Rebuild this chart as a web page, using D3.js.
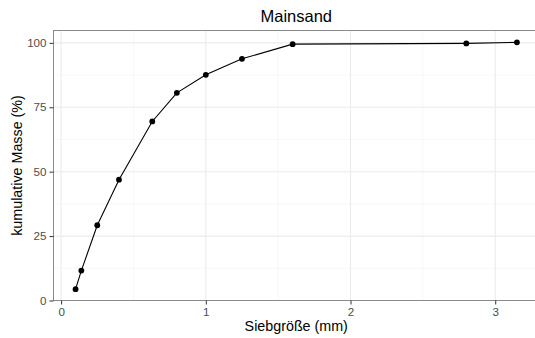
<!DOCTYPE html>
<html>
<head>
<meta charset="utf-8">
<script src="https://cdn.jsdelivr.net/npm/d3@7"></script>
<style>
  html, body { margin: 0; padding: 0; background: #fff; }
  svg { display: block; font-family: "Liberation Sans", Arial, Helvetica, sans-serif; }
  .tick text { opacity: 0.999; }
</style>
</head>
<body>
<svg id="chart" width="535" height="338"></svg>
<script>
// Sieve analysis: cumulative passing mass per sieve size
const title = "Mainsand";
const xLabel = "Siebgröße (mm)";
const yLabel = "kumulative Masse (%)";
const sieveSizes = [0.1, 0.14, 0.25, 0.4, 0.63, 0.8, 1.0, 1.25, 1.6, 2.8, 3.15];
const cumulativeMass = [4.4, 11.6, 29.2, 46.9, 69.5, 80.6, 87.6, 93.8, 99.5, 99.8, 100.2];
const xTicks = [0, 1, 2, 3];
const yTicks = [0, 25, 50, 75, 100];
const xMinor = [0.5, 1.5, 2.5];
const yMinor = [12.5, 37.5, 62.5, 87.5];

const data = sieveSizes.map((s, i) => ({ x: s, y: cumulativeMass[i] }));

const svg = d3.select("#chart");
const panel = { left: 53.5, right: 539, top: 30.5, bottom: 300.5 };

const x = d3.scaleLinear().domain([-0.0525, 3.3025]).range([panel.left, panel.right]);
const y = d3.scaleLinear().domain([0, 104.8]).range([panel.bottom, panel.top]);

// grid
const grid = svg.append("g");
grid.selectAll("line.xmin").data(xMinor).join("line")
  .attr("x1", d => x(d)).attr("x2", d => x(d))
  .attr("y1", panel.top).attr("y2", panel.bottom)
  .attr("stroke", "#F4F4F4").attr("stroke-width", 0.6);
grid.selectAll("line.ymin").data(yMinor).join("line")
  .attr("y1", d => y(d)).attr("y2", d => y(d))
  .attr("x1", panel.left).attr("x2", panel.right)
  .attr("stroke", "#F4F4F4").attr("stroke-width", 0.6);
grid.selectAll("line.xmaj").data(xTicks).join("line")
  .attr("x1", d => x(d)).attr("x2", d => x(d))
  .attr("y1", panel.top).attr("y2", panel.bottom)
  .attr("stroke", "#EBEBEB").attr("stroke-width", 1.1);
grid.selectAll("line.ymaj").data(yTicks).join("line")
  .attr("y1", d => y(d)).attr("y2", d => y(d))
  .attr("x1", panel.left).attr("x2", panel.right)
  .attr("stroke", "#EBEBEB").attr("stroke-width", 1.1);

// curve and points
const line = d3.line().x(d => x(d.x)).y(d => y(d.y));
svg.append("path").datum(data)
  .attr("d", line)
  .attr("fill", "none")
  .attr("stroke", "#000")
  .attr("stroke-width", 1.1);
svg.selectAll("circle").data(data).join("circle")
  .attr("cx", d => x(d.x)).attr("cy", d => y(d.y))
  .attr("r", 2.9).attr("fill", "#000");

// panel border
svg.append("rect")
  .attr("x", panel.left).attr("y", panel.top)
  .attr("width", panel.right - panel.left).attr("height", panel.bottom - panel.top)
  .attr("fill", "none").attr("stroke", "#8a8a8a").attr("stroke-width", 1);

// axes
const xAxis = d3.axisBottom(x).tickValues(xTicks).tickSize(4).tickPadding(3).tickFormat(d3.format("d"));
const yAxis = d3.axisLeft(y).tickValues(yTicks).tickSize(4).tickPadding(3).tickFormat(d3.format("d"));

const gx = svg.append("g").attr("transform", `translate(0,${panel.bottom})`).call(xAxis);
const gy = svg.append("g").attr("transform", `translate(${panel.left},0)`).call(yAxis);
[gx, gy].forEach(g => {
  g.select(".domain").remove();
  g.selectAll(".tick line").attr("stroke", "#333").attr("stroke-width", 1);
  g.selectAll(".tick text").attr("fill", "#4D4D4D")
    .style("font-size", "11.6px")
    .style("font-family", "'Liberation Sans', Arial, sans-serif");
});

const cx = (panel.left + panel.right) / 2;
svg.append("text")
  .attr("x", cx).attr("y", 22)
  .attr("text-anchor", "middle")
  .style("font-size", "16.5px")
  .text(title);

svg.append("text")
  .attr("x", cx).attr("y", 331)
  .attr("text-anchor", "middle")
  .style("font-size", "14.3px")
  .text(xLabel);

svg.append("text")
  .attr("transform", `translate(22,${(panel.top + panel.bottom) / 2}) rotate(-90)`)
  .attr("text-anchor", "middle")
  .style("font-size", "14.3px")
  .text(yLabel);
</script>
</body>
</html>
